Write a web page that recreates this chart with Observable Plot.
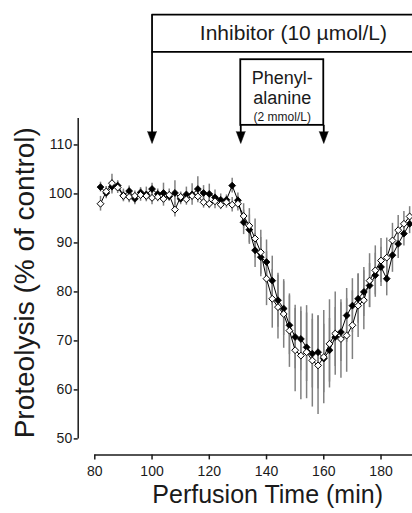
<!DOCTYPE html>
<html><head><meta charset="utf-8">
<script src="https://cdn.jsdelivr.net/npm/d3@7"></script>
<script src="https://cdn.jsdelivr.net/npm/@observablehq/plot@0.6"></script>
<style>
html,body{margin:0;padding:0;background:#fff;overflow:hidden;}
#chart svg{display:block;}
</style></head>
<body><div id="chart"></div>
<script>
// ---- data ----
const times = [82,84,86,88,90,92,94,96,98,100,102,104,106,108,110,112,114,116,118,120,122,124,126,128,130,
  132,134,136,138,140,142,144,146,148,150,152,154,156,158,160,162,164,166,168,170,172,174,176,178,180,182,184,186,188,190];
const filledMean = [101.4,100.2,101.5,101.7,99.7,100.6,99.0,100.3,99.9,101.0,100.0,100.2,99.5,100.2,99.0,99.9,99.9,101.0,100.2,100.0,99.3,98.8,98.8,101.7,98.7,
  94.2,92.7,88.5,87.1,86.1,82.3,78.3,76.6,73.2,70.8,70.4,68.7,67.4,67.7,66.4,68.1,70.8,71.8,75.2,77.2,78.6,80.0,81.3,83.4,85.1,82.7,87.5,89.8,91.9,93.9];
const filledSem = [1.0,1.2,1.5,1.0,1.3,1.0,1.2,1.0,1.5,1.2,1.0,2.0,1.0,2.5,1.2,1.5,2.2,2.5,1.5,2.0,1.5,1.2,1.0,1.5,1.5,
  2.5,3.0,3.5,4.0,4.5,5.0,5.5,5.5,6.0,6.5,6.5,7.0,7.0,7.5,7.0,6.5,6.0,6.0,5.5,5.5,5.0,5.0,4.5,4.5,4.0,3.5,3.5,3.0,2.5,2.0];
const openMean = [98.0,100.5,102.2,101.3,99.6,99.4,99.6,99.8,99.6,99.2,99.4,99.0,99.8,96.8,99.4,98.9,99.6,99.5,98.3,98.0,98.5,97.8,98.3,97.8,98.0,
  95.5,93.5,90.9,88.1,82.7,78.6,76.9,75.5,72.1,68.1,67.0,67.7,66.0,65.0,66.7,69.4,71.5,70.4,71.1,73.2,77.2,78.3,82.3,84.4,86.4,87.0,90.5,92.6,93.9,95.4];
const openSem = [1.5,1.0,1.8,1.2,1.0,1.2,1.0,1.3,1.0,1.4,1.0,1.5,1.2,1.5,1.0,1.2,1.0,1.3,1.2,1.0,1.5,1.0,1.2,1.5,1.5,
  2.5,3.5,4.0,4.5,5.5,6.0,6.5,7.0,7.5,8.5,9.0,9.5,9.5,10.0,9.5,9.0,8.5,8.0,7.5,7.0,6.5,6.0,5.5,5.0,4.5,4.0,3.5,3.0,2.5,2.0];

const xTicks = [80,100,120,140,160,180];
const yTicks = [50,60,70,80,90,100,110];
const xTitle = "Perfusion Time (min)";
const yTitle = "Proteolysis (% of control)";

const inhibitorLabel = "Inhibitor (10 µmol/L)";
const inhibitorStart = 100;
const pheLabel1 = "Phenyl-";
const pheLabel2 = "alanine";
const pheLabel3 = "(2 mmol/L)";
const pheStart = 131;
const pheEnd = 160;

// ---- build table ----
const rows = [];
times.forEach((t, i) => {
  rows.push({t, series: "filled", mean: filledMean[i], se: filledSem[i]});
  rows.push({t, series: "open", mean: openMean[i], se: openSem[i]});
});
const filledRows = rows.filter(d => d.series === "filled");
const openRows = rows.filter(d => d.series === "open");

const xDomain = [80, 191];
const yDomain = [50, 115.4];
const font = "Liberation Sans, Arial, Helvetica, sans-serif";
const ink = "#1a1a1a";

// annotation levels (in y units, above the plotted range)
const inhTop = 136.6, inhBot = 129.0, pheTop = 127.4, pheBot = 114.0, arrowTip = 110.3;

const chart = Plot.plot({
  width: 412,
  height: 513,
  marginLeft: 94.3,
  marginRight: 0,
  marginTop: 118,
  marginBottom: 74.6,
  style: {fontFamily: font, background: "#fff", color: ink},
  x: {domain: xDomain, label: null},
  y: {domain: yDomain, label: null},
  marks: [
    // axes (offset, Prism style)
    Plot.ruleX([xDomain[0]], {y1: yDomain[0], y2: yDomain[1], dx: -16.6, stroke: ink, strokeWidth: 1.5}),
    Plot.axisY({ticks: yTicks, tickSize: 4, tickPadding: 2, dx: -16.6, fontSize: 14, strokeWidth: 1.5, label: null, tickFormat: d => String(d)}),
    Plot.ruleY([yDomain[0]], {x1: xDomain[0], x2: xDomain[1], dy: 16, stroke: ink, strokeWidth: 1.5}),
    Plot.axisX({ticks: xTicks, tickSize: 5, tickPadding: 6, dy: 16, fontSize: 14, strokeWidth: 1.5, label: null, tickFormat: d => String(d)}),
    // axis titles
    Plot.text([yTitle], {frameAnchor: "left", textAnchor: "middle", lineAnchor: "middle", dx: -70, dy: 4, rotate: -90, fontSize: 28, fill: ink}),
    Plot.text([xTitle], {frameAnchor: "bottom", textAnchor: "middle", lineAnchor: "middle", dx: 14, dy: 56.5, fontSize: 25, fill: ink}),
    // error bars
    Plot.ruleX(rows, {x: "t", y1: d => d.mean - d.se, y2: d => d.mean + d.se, stroke: "#808080", strokeWidth: 1.5}),
    // lines
    Plot.line(filledRows, {x: "t", y: "mean", stroke: "#000", strokeWidth: 1}),
    Plot.line(openRows, {x: "t", y: "mean", stroke: "#000", strokeWidth: 1}),
    // markers
    Plot.dot(filledRows, {x: "t", y: "mean", symbol: "diamond2", r: 3.1, fill: "#000", stroke: "#000", strokeWidth: 0.8}),
    Plot.dot(openRows, {x: "t", y: "mean", symbol: "diamond2", r: 3.1, fill: "#fff", stroke: "#000", strokeWidth: 1}),
    // inhibitor annotation
    Plot.ruleY([inhTop, inhBot], {x1: inhibitorStart, x2: xDomain[1], stroke: "#000", strokeWidth: 1.8}),
    Plot.ruleX([inhibitorStart], {y1: arrowTip + 1.5, y2: inhTop, stroke: "#000", strokeWidth: 1.8}),
    Plot.text([inhibitorLabel], {x: 149.4, y: (inhTop + inhBot) / 2, fontSize: 21, fill: ink}),
    // phenylalanine annotation
    Plot.rect([0], {x1: pheStart, x2: pheEnd, y1: pheBot, y2: pheTop, fill: "none", stroke: "#000", strokeWidth: 1.8}),
    Plot.ruleX([pheStart, pheEnd], {y1: arrowTip + 1.5, y2: pheBot, stroke: "#000", strokeWidth: 1.8}),
    Plot.text([pheLabel1], {x: (pheStart + pheEnd) / 2, y: 123.7, fontSize: 18, fill: ink}),
    Plot.text([pheLabel2], {x: (pheStart + pheEnd) / 2, y: 119.6, fontSize: 18, fill: ink}),
    Plot.text([pheLabel3], {x: (pheStart + pheEnd) / 2, y: 115.7, fontSize: 12, fill: ink}),
    // arrowheads
    Plot.vector([inhibitorStart, pheStart, pheEnd], {x: d => d, y: arrowTip, length: 12, rotate: 180, anchor: "end", shape: "spike", r: 4.5, fill: "#000", stroke: "#000", strokeWidth: 0.5})
  ]
});
document.getElementById("chart").appendChild(chart);
</script>
</body></html>
